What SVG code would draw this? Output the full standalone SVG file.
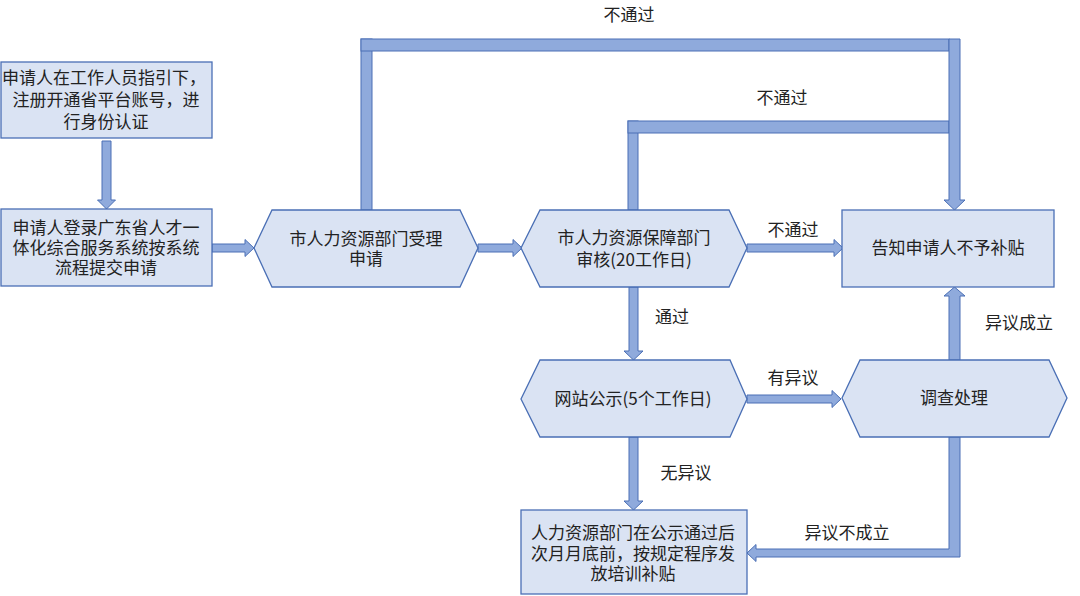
<svg xmlns="http://www.w3.org/2000/svg" width="1080" height="596" viewBox="0 0 1080 596">
<style>
.node{fill:#DAE3F3;stroke:#4A6FB5;stroke-width:1.3}
.conn{fill:#8FAADC;stroke:#4A6FB5;stroke-width:1}
text{font-family:"Noto Sans CJK SC","Microsoft YaHei",sans-serif;font-size:17px;fill:#222;text-anchor:middle}
</style>
<rect width="1080" height="596" fill="#ffffff"/>
<g id="connectors">
  <polygon class="conn" points="102,141 111,141 111,200 115.5,200 106.5,209 97.5,200 102,200"/>
  <polygon class="conn" points="212,244 245,244 245,239.5 254,248 245,256.5 245,252 212,252"/>
  <polygon class="conn" points="478,244 513,244 513,239.5 522,248 513,256.5 513,252 478,252"/>
  <polygon class="conn" points="747,244 834,244 834,239.5 843,248 834,256.5 834,252 747,252"/>
  <rect class="conn" x="361" y="39" width="11" height="171"/>
  <rect class="conn" x="361" y="39" width="588" height="12"/>
  <rect class="conn" x="628" y="121" width="10" height="89"/>
  <rect class="conn" x="628" y="121" width="321" height="12"/>
  <polygon class="conn" points="949,39 960,39 960,200 965,200 954.5,210 944,200 949,200"/>
  <polygon class="conn" points="629,287 638,287 638,351 643,351 633.5,360 624,351 629,351"/>
  <polygon class="conn" points="747,395 832,395 832,390.5 841,399 832,407.5 832,403 747,403"/>
  <polygon class="conn" points="949,360 960,360 960,296 965,296 954.5,287 944,296 949,296"/>
  <polygon class="conn" points="629,437 638,437 638,501 643,501 633.5,510 624,501 629,501"/>
  <polygon class="conn" points="949,437 960,437 960,557 756,557 756,561.5 747,553 756,544.5 756,549 949,549"/>
  <text x="629" y="21">不通过</text>
  <text x="782" y="104">不通过</text>
  <text x="793" y="236">不通过</text>
  <text x="672" y="323">通过</text>
  <text x="793" y="384">有异议</text>
  <text x="1019" y="329">异议成立</text>
  <text x="686" y="479">无异议</text>
  <text x="847" y="539">异议不成立</text>
</g>
<g id="n1">
  <rect class="node" x="1" y="62" width="211" height="76"/>
  <text x="104" y="84">申请人在工作人员指引下，</text>
  <text x="106" y="106">注册开通省平台账号，进</text>
  <text x="106" y="128">行身份认证</text>
</g>
<g id="n2">
  <rect class="node" x="1" y="209" width="211" height="77"/>
  <text x="106" y="234">申请人登录广东省人才一</text>
  <text x="106" y="254">体化综合服务系统按系统</text>
  <text x="106" y="274">流程提交申请</text>
</g>
<g id="n3">
  <polygon class="node" points="254,248 272,210 460,210 478,248 460,287 272,287"/>
  <text x="366" y="245">市人力资源部门受理</text>
  <text x="366" y="265">申请</text>
</g>
<g id="n4">
  <polygon class="node" points="521,248 540,210 729,210 747,248 729,287 540,287"/>
  <text x="634" y="244">市人力资源保障部门</text>
  <text x="634" y="266">审核(20工作日)</text>
</g>
<g id="n5">
  <rect class="node" x="842" y="210" width="212" height="77"/>
  <text x="948" y="254">告知申请人不予补贴</text>
</g>
<g id="n6">
  <polygon class="node" points="521,399 540,360 730,360 747,399 730,437 540,437"/>
  <text x="633" y="405">网站公示(5个工作日)</text>
</g>
<g id="n7">
  <polygon class="node" points="842,398 860,360 1049,360 1067,398 1049,437 860,437"/>
  <text x="954" y="404">调查处理</text>
</g>
<g id="n8">
  <rect class="node" x="521" y="510" width="226" height="84"/>
  <text x="633" y="539">人力资源部门在公示通过后</text>
  <text x="633" y="560">次月月底前，按规定程序发</text>
  <text x="633" y="580">放培训补贴</text>
</g>
</svg>
